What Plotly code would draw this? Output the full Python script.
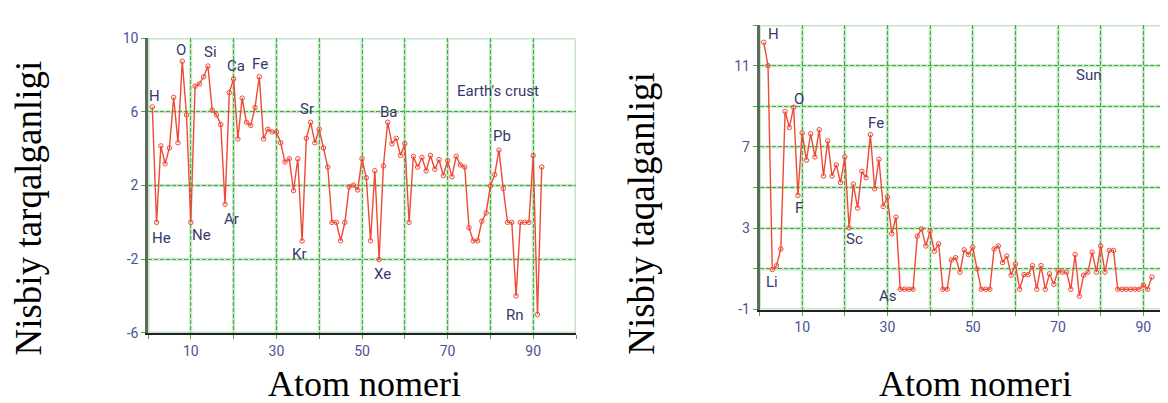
import plotly.graph_objects as go

# ---------------- data ----------------
atomic_number = list(range(1, 93))

crust = [6.26, 0.0, 4.15, 3.18, 4.04, 6.78, 4.32, 8.74, 5.83, 0.0,
         7.39, 7.51, 7.90, 8.48, 6.09, 5.83, 5.31, 0.98, 7.04, 7.78,
         4.53, 6.74, 5.43, 5.26, 6.23, 7.90, 4.53, 5.05, 4.91, 4.91,
         4.32, 3.28, 3.45, 1.72, 3.45, -1.01, 4.56, 5.43, 4.32, 5.05,
         4.04, 3.00, 0.0, 0.0, -1.0, 0.0, 1.93, 2.02, 1.76, 3.45,
         2.42, -1.0, 2.80, -2.02, 3.06, 5.43, 4.27, 4.56, 3.63, 4.27,
         0.0, 3.58, 3.00, 3.52, 2.80, 3.63, 2.88, 3.40, 2.54, 3.35,
         2.48, 3.58, 3.11, 3.00, -0.29, -1.0, -1.0, 0.06, 0.51, 1.97,
         2.59, 3.92, 1.84, 0.0, 0.0, -3.99, 0.0, 0.0, 0.0, 3.63,
         -5.0, 3.00]

sun = [12.15, 11.0, 0.97, 1.16, 1.98, 8.75, 7.96, 8.95, 4.62, 7.69,
       6.35, 7.65, 6.51, 7.85, 5.57, 7.30, 5.57, 6.12, 5.25, 6.51,
       3.02, 5.17, 3.99, 5.80, 5.49, 7.61, 4.94, 6.39, 4.07, 4.54,
       2.73, 3.55, 0.0, 0.0, 0.0, 0.0, 2.61, 2.97, 2.13, 2.86,
       1.87, 2.23, 0.0, 0.0, 1.44, 1.55, 0.84, 1.94, 1.71, 2.07,
       1.00, 0.0, 0.0, 0.0, 1.98, 2.13, 1.31, 1.63, 0.69, 1.24,
       0.0, 0.72, 0.72, 1.16, 0.0, 1.16, 0.0, 0.76, 0.24, 0.92,
       0.84, 0.84, 0.0, 1.71, -0.34, 0.69, 0.84, 1.82, 0.84, 2.13,
       0.84, 1.91, 1.91, 0.0, 0.0, 0.0, 0.0, 0.0, 0.0, 0.21,
       0.0, 0.60]

crust_labels = ["H", "He", "O", "Si", "Ne", "Ca", "Fe", "Ar", "Sr", "Kr",
                "Ba", "Xe", "Earth's crust", "Pb", "Rn"]
crust_label_x = [1.6, 3.1, 7.8, 14.7, 12.5, 20.5, 26.2, 19.5, 37.1, 35.4,
                 56.4, 54.9, 81.8, 82.6, 85.7]
crust_label_y = [6.87, -0.84, 9.38, 9.24, -0.67, 8.48, 8.6, 0.16, 6.17, -1.71,
                 6.0, -2.83, 7.13, 4.7, -5.05]

sun_labels = ["H", "O", "Fe", "F", "Sc", "Li", "As", "Sun"]
sun_label_x = [3.3, 9.2, 27.4, 9.2, 22.3, 3.0, 30.1, 77.2]
sun_label_y = [12.57, 9.38, 8.17, 4.02, 2.45, 0.34, -0.34, 10.53]

x_tickvals = [0, 10, 20, 30, 40, 50, 60, 70, 80, 90, 100]
x_ticktext = ["", "10", "", "30", "", "50", "", "70", "", "90", ""]

crust_y_tickvals = [-6, -2, 2, 6, 10]
crust_y_ticktext = ["-6", "-2", "2", "6", "10"]

sun_y_tickvals = [-1, 1, 3, 5, 7, 9, 11, 13]
sun_y_ticktext = ["-1", "", "3", "", "7", "", "11", ""]

y_title_left = "Nisbiy tarqalganligi"
y_title_right = "Nisbiy taqalganligi"
x_title = "Atom nomeri"

# ---------------- styles ----------------
W, H = 1168, 403
LINE = "#ee4a35"
GRID = "#3fae3f"
BAND = "#c6e6c6"
TICKCOL = "#4b5294"
LABCOL = "#36376b"
SANS = "Liberation Sans Narrow, Roboto, Liberation Sans, Arial, sans-serif"
SERIF = "Liberation Serif, Times New Roman, serif"

fig = go.Figure()

for xa, ya, vals in (("x", "y", crust), ("x2", "y2", sun)):
    fig.add_trace(go.Scatter(
        x=atomic_number, y=vals, xaxis=xa, yaxis=ya, mode="lines+markers",
        line=dict(color=LINE, width=1.4),
        marker=dict(symbol="circle-open", size=4.5, color=LINE, line=dict(width=1)),
        hoverinfo="skip", showlegend=False))

def px_dom_x(a, b):
    return [a / W, min(b / W, 1.0)]

def px_dom_y(top, bottom):
    return [1 - bottom / H, 1 - top / H]

common_x = dict(showgrid=True, gridcolor=GRID, gridwidth=1, griddash="4px,2px",
                zeroline=False, showline=True, linecolor="#222222", linewidth=2,
                ticks="outside", ticklen=4, tickcolor=GRID,
                tickvals=x_tickvals, ticktext=x_ticktext,
                tickfont=dict(family=SANS, size=14, color=TICKCOL))
common_y = dict(showgrid=True, gridcolor=GRID, gridwidth=1, griddash="4px,2px",
                zeroline=False, showline=True, linecolor="#5d6b5d", linewidth=2.5,
                ticks="outside", ticklen=4, tickcolor=GRID,
                tickfont=dict(family=SANS, size=14, color=TICKCOL))

fig.update_layout(
    width=W, height=H, margin=dict(l=0, r=0, t=0, b=0),
    paper_bgcolor="white", plot_bgcolor="white",
    xaxis=dict(domain=px_dom_x(140, 568), range=[0, 100], anchor="y", **common_x),
    yaxis=dict(domain=px_dom_y(23, 330), range=[-6, 10], anchor="x",
               tickvals=crust_y_tickvals, ticktext=crust_y_ticktext, **common_y),
    xaxis2=dict(domain=px_dom_x(751.5, W), range=[0, (W - 751.5) / 4.265], anchor="y2", **common_x),
    yaxis2=dict(domain=px_dom_y(9.4, 305.7), range=[-1, 13], anchor="x2",
                tickvals=sun_y_tickvals, ticktext=sun_y_ticktext, **common_y),
)

# light green bands beneath the dashed grid lines (incl. top/right borders)
shapes = []
for xr, yr, yvals in (("x", "y", crust_y_tickvals), ("x2", "y2", sun_y_tickvals)):
    for v in x_tickvals:
        shapes.append(dict(type="line", xref=xr, yref=yr + " domain", x0=v, x1=v, y0=0, y1=1,
                           line=dict(color=BAND, width=3), layer="below"))
    for v in yvals:
        shapes.append(dict(type="line", xref=xr + " domain", yref=yr, x0=0, x1=1, y0=v, y1=v,
                           line=dict(color=BAND, width=3), layer="below"))
fig.update_layout(shapes=shapes)

annotations = []
for t, x, y in zip(crust_labels, crust_label_x, crust_label_y):
    annotations.append(dict(text=t, x=x, y=y, xref="x", yref="y", showarrow=False,
                            xanchor="center", yanchor="middle",
                            font=dict(family=SANS, size=15, color=LABCOL)))
for t, x, y in zip(sun_labels, sun_label_x, sun_label_y):
    annotations.append(dict(text=t, x=x, y=y, xref="x2", yref="y2", showarrow=False,
                            xanchor="center", yanchor="middle",
                            font=dict(family=SANS, size=15, color=LABCOL)))

# axis titles
title_font = dict(family=SERIF, size=37, color="black")
xtitle_font = dict(family=SERIF, size=36, color="black")
annotations += [
    dict(text=y_title_left, x=21 / W, y=1 - 200.5 / H, xref="paper", yref="paper",
         xanchor="center", yanchor="middle", textangle=-90, showarrow=False, font=title_font),
    dict(text=y_title_right, x=634 / W, y=1 - 206 / H, xref="paper", yref="paper",
         xanchor="center", yanchor="middle", textangle=-90, showarrow=False, font=title_font),
    dict(text=x_title, x=356 / W, y=1 - 383 / H, xref="paper", yref="paper",
         xanchor="center", yanchor="middle", showarrow=False, font=xtitle_font),
    dict(text=x_title, x=967 / W, y=1 - 383 / H, xref="paper", yref="paper",
         xanchor="center", yanchor="middle", showarrow=False, font=xtitle_font),
]
fig.update_layout(annotations=annotations)

fig.write_html("out.html")
